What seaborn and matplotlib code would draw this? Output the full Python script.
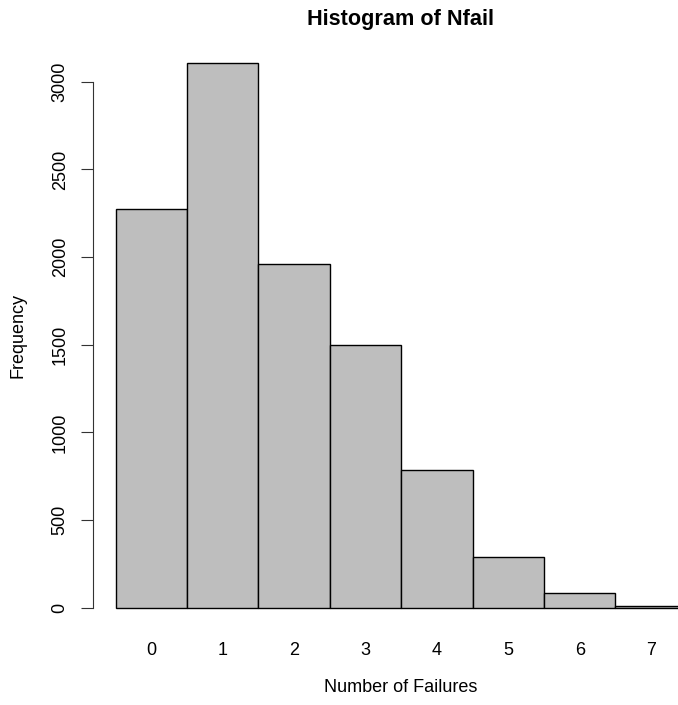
import numpy as np
import matplotlib
matplotlib.use("Agg")
import matplotlib.pyplot as plt
import seaborn as sns

# failures per unit and how often each count occurred
n_fail = [0, 1, 2, 3, 4, 5, 6, 7]
freq = [2274, 3109, 1959, 1497, 787, 291, 84, 9]
y_ticks = [0, 500, 1000, 1500, 2000, 2500, 3000]

sns.set_style("white")
plt.rcParams["font.family"] = ["Liberation Sans", "DejaVu Sans"]
plt.rcParams["text.color"] = "black"
plt.rcParams["xtick.color"] = "black"
plt.rcParams["ytick.color"] = "black"

W, H = 678, 705
fig = plt.figure(figsize=(W / 100, H / 100), dpi=100)
# R-like plot region (runs a little past the right edge, as in the reference)
left, right, top, bottom = 92.8, 709.7, 40.9, 629.5
ax = fig.add_axes([left / W, 1 - bottom / H, (right - left) / W, (bottom - top) / H])

sns.histplot(x=n_fail, weights=freq, discrete=True, color="#BEBEBE",
             edgecolor="black", linewidth=1, alpha=1, ax=ax)

ax.set_xlim(-0.82, 7.82)
ax.set_ylim(-124, 3233)
for s in ["top", "right", "bottom"]:
    ax.spines[s].set_visible(False)
ax.spines["left"].set_bounds(0, 3000)
ax.spines["left"].set_color("#333333")
ax.spines["left"].set_linewidth(0.8)

ax.set_yticks(y_ticks)
ax.set_yticklabels([str(v) for v in y_ticks], rotation=90, va="center")
ax.tick_params(axis="y", length=8.4, width=0.8, pad=9, labelsize=13, left=True,
               color="#333333", labelcolor="black")
ax.set_xticks(n_fail)
ax.set_xticklabels([str(v) for v in n_fail])
ax.tick_params(axis="x", length=0, pad=9, labelsize=13, labelcolor="black")

ax.set_xlabel("")
ax.set_ylabel("")
fig.text(18 / W, 1 - 335 / H, "Frequency", rotation=90, ha="center", va="center", fontsize=13)
fig.text(401 / W, 1 - 688 / H, "Number of Failures", ha="center", va="center", fontsize=13)
fig.text(401 / W, 1 - 20 / H, "Histogram of Nfail", ha="center", va="center",
         fontsize=15.6, fontweight="bold")

fig.savefig("out.png", dpi=100)
